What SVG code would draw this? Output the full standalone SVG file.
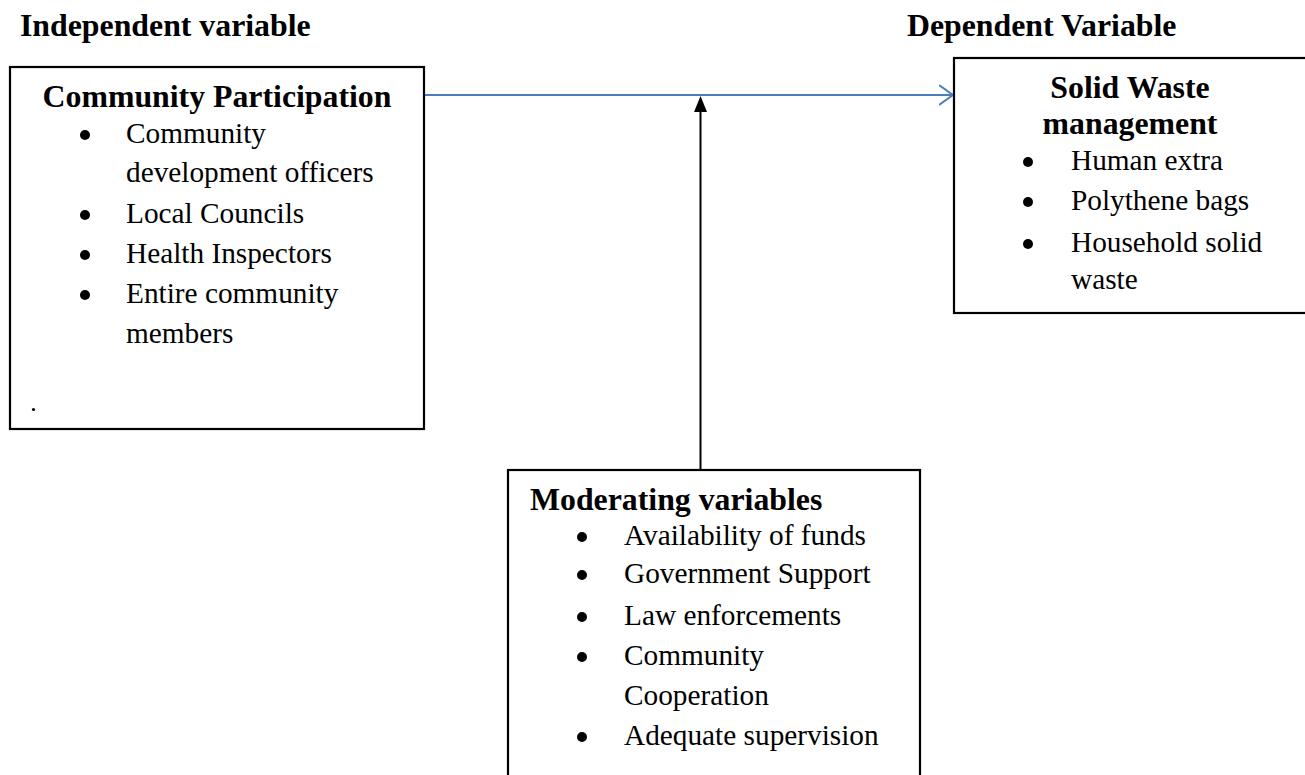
<svg xmlns="http://www.w3.org/2000/svg" width="1305" height="775" viewBox="0 0 1305 775">
<style>
.box{fill:#fff;stroke:#000;stroke-width:2.2}
.h{font-family:"Liberation Serif","Times New Roman",serif;font-weight:bold;font-size:31.8px;fill:#000}
.t{font-family:"Liberation Serif","Times New Roman",serif;font-size:29.3px;fill:#000}
.b{fill:#000}
</style>
<defs>
<marker id="open" markerWidth="16" markerHeight="22" refX="14" refY="11" orient="auto" markerUnits="userSpaceOnUse">
<path d="M0,1 L14,11 L0,21" fill="none" stroke="#4a7ebb" stroke-width="2"/>
</marker>
</defs>
<rect width="1305" height="775" fill="#fff"/>
<text class="h" x="20" y="36">Independent variable</text>
<text class="h" x="907" y="36">Dependent Variable</text>

<g id="connectors">
<line x1="425" y1="95" x2="953" y2="95" stroke="#4a7ebb" stroke-width="2" marker-end="url(#open)"/>
<line x1="700.5" y1="470" x2="700.5" y2="112" stroke="#000" stroke-width="2"/>
<path d="M694,112 L700.5,96 L707,112 Z" fill="#000"/>
</g>

<g id="community-participation">
<rect class="box" x="10" y="67" width="414" height="362"/>
<text class="h" x="217" y="107" text-anchor="middle">Community Participation</text>
<circle class="b" cx="85" cy="135" r="5"/>
<text class="t" x="126" y="143">Community</text>
<text class="t" x="126" y="182">development officers</text>
<circle class="b" cx="85" cy="215" r="5"/>
<text class="t" x="126" y="223">Local Councils</text>
<circle class="b" cx="85" cy="255" r="5"/>
<text class="t" x="126" y="263">Health Inspectors</text>
<circle class="b" cx="85" cy="295" r="5"/>
<text class="t" x="126" y="303">Entire community</text>
<text class="t" x="126" y="343">members</text>
<circle class="b" cx="33.5" cy="409.5" r="1.6"/>
</g>

<g id="solid-waste">
<rect class="box" x="954" y="58" width="370" height="255"/>
<text class="h" x="1130" y="98" text-anchor="middle">Solid Waste</text>
<text class="h" x="1130" y="134" text-anchor="middle">management</text>
<circle class="b" cx="1028" cy="162" r="5"/>
<text class="t" x="1071" y="170">Human extra</text>
<circle class="b" cx="1028" cy="202" r="5"/>
<text class="t" x="1071" y="210">Polythene bags</text>
<circle class="b" cx="1028" cy="244" r="5"/>
<text class="t" x="1071" y="252">Household solid</text>
<text class="t" x="1071" y="289">waste</text>
</g>

<g id="moderating">
<rect class="box" x="508" y="470" width="412" height="330"/>
<text class="h" x="530" y="510">Moderating variables</text>
<circle class="b" cx="582" cy="537" r="5"/>
<text class="t" x="624" y="545">Availability of funds</text>
<circle class="b" cx="582" cy="575" r="5"/>
<text class="t" x="624" y="583">Government Support</text>
<circle class="b" cx="582" cy="617" r="5"/>
<text class="t" x="624" y="625">Law enforcements</text>
<circle class="b" cx="582" cy="657" r="5"/>
<text class="t" x="624" y="665">Community</text>
<text class="t" x="624" y="705">Cooperation</text>
<circle class="b" cx="582" cy="737" r="5"/>
<text class="t" x="624" y="745">Adequate supervision</text>
</g>
</svg>
